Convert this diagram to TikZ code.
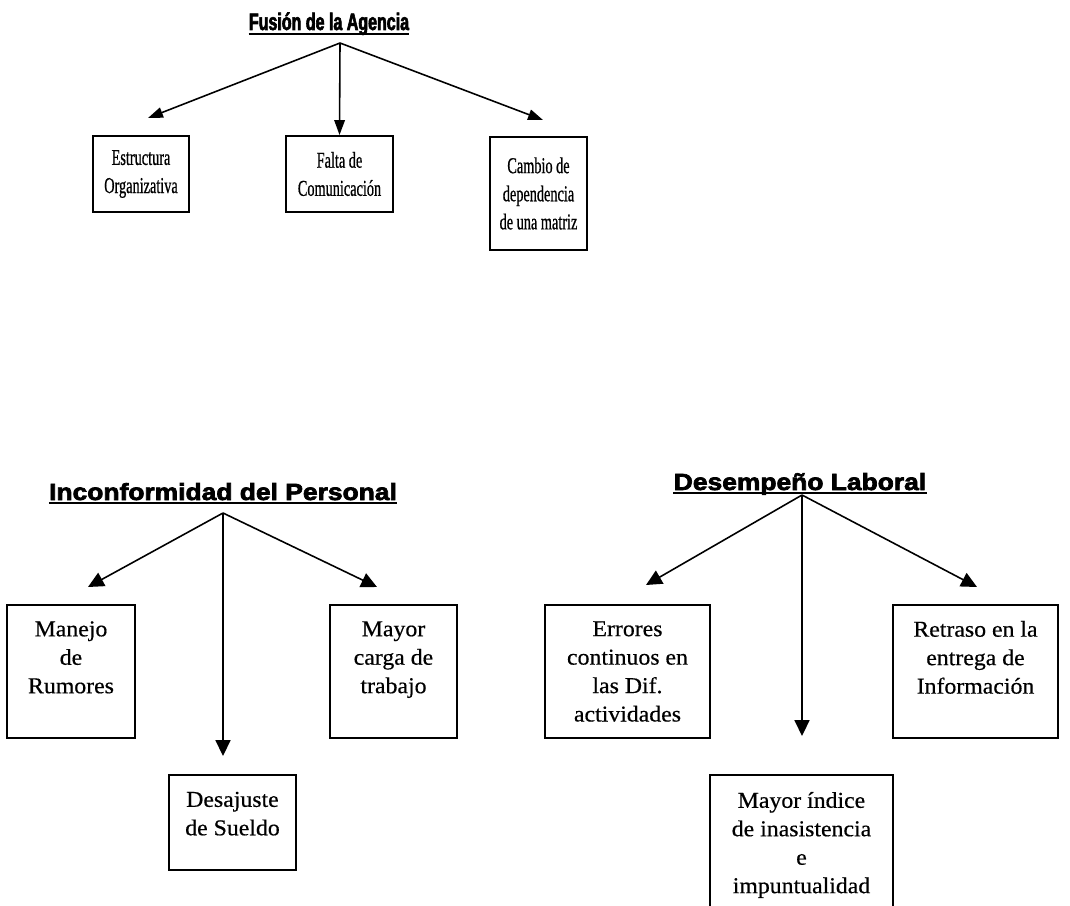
\documentclass[tikz,border=0pt]{standalone}
\usepackage{fontspec}
\setmainfont{Liberation Serif}
\newfontfamily\narrowserif{Liberation Serif}[FakeStretch=0.63,FakeBold=0.6]
\newfontfamily\wideserif{Liberation Serif}[FakeStretch=1.05,FakeBold=0.5]
\newfontfamily\headfont{Liberation Sans}[FakeStretch=1.13,FakeBold=3]
\newfontfamily\narrowhead{Liberation Sans}[FakeStretch=0.67,FakeBold=2.5]
\usetikzlibrary{arrows.meta}
\tikzstyle{box} = [rectangle, draw=black, line width=1.1pt, align=center, inner sep=0pt, font=\fontsize{12.9}{16.2}\wideserif]
\tikzstyle{box1} = [box, font=\fontsize{12.9}{16}\narrowserif]
\tikzstyle{title} = [inner sep=0pt, anchor=base, font=\fontsize{13.3}{16}\headfont\bfseries]
\tikzstyle{title1} = [title, font=\fontsize{13.6}{16}\narrowhead\bfseries]
\tikzstyle{arrow} = [line width=0.9pt, -{Triangle[length=9pt,width=8.5pt]}]
\tikzstyle{arrow1} = [line width=0.9pt, -{Triangle[length=8.5pt,width=6pt]}]
\tikzstyle{uline} = [line width=1.1pt]

\begin{document}
\begin{tikzpicture}[x=0.02cm, y=-0.02cm]
    \useasboundingbox (0,0) rectangle (1070,905);
    \clip (0,0) rectangle (1070,905);

    \node (t1) [title1] at (329,30) {Fusión de la Agencia};
    \node (e1) [box1, minimum width=1.92cm, minimum height=1.52cm] at (141,174) {Estructura\\Organizativa};
    \node (e2) [box1, minimum width=2.14cm, minimum height=1.52cm] at (339.5,174) {Falta de\\Comunicación};
    \node (e3) [box1, minimum width=1.94cm, minimum height=2.26cm] at (538.5,193.5) {Cambio de\\dependencia\\de una matriz};
    \coordinate (f0) at (340,43);
    \coordinate (fl) at (148,118);
    \coordinate (fr) at (543,120);
    \draw [uline] ([yshift=-2.2pt]t1.base west)--([yshift=-2.2pt]t1.base east);
    \draw [arrow1] (f0)--(fl);
    \draw [arrow1] (f0)--(e2.north);
    \draw [arrow1] (f0)--(fr);

    \node (t2) [title] at (223,500) {Inconformidad del Personal};
    \node (m1) [box, minimum width=2.56cm, minimum height=2.66cm] at (71,671.5) {Manejo\\de\\Rumores\\};
    \node (m2) [box, minimum width=2.54cm, minimum height=1.9cm] at (232.5,822.5) {Desajuste\\de Sueldo\\[-6pt]};
    \node (m3) [box, minimum width=2.54cm, minimum height=2.66cm] at (393.5,671.5) {Mayor\\carga de\\trabajo\\};
    \coordinate (p0) at (223,513);
    \coordinate (pl) at (88,587);
    \coordinate (pm) at (223,756);
    \coordinate (pr) at (377,587);
    \draw [uline] ([yshift=-1.8pt]t2.base west)--([yshift=-1.8pt]t2.base east);
    \draw [arrow] (p0)--(pl);
    \draw [arrow] (p0)--(pm);
    \draw [arrow] (p0)--(pr);

    \node (t3) [title] at (800,490) {Desempeño Laboral};
    \node (r1) [box, minimum width=3.3cm, minimum height=2.66cm] at (627.5,671.5) {Errores\\continuos en\\las Dif.\\actividades};
    \node (r2) [box, minimum width=3.66cm, minimum height=2.8cm] at (801.5,845) {Mayor índice\\de inasistencia\\e\\impuntualidad};
    \node (r3) [box, minimum width=3.3cm, minimum height=2.66cm] at (975.5,671.5) {Retraso en la\\entrega de\\Información\\};
    \coordinate (d0) at (802,495);
    \coordinate (dl) at (646,585);
    \coordinate (dm) at (802,736);
    \coordinate (dr) at (977,587);
    \draw [uline] ([yshift=-1.8pt]t3.base west)--([yshift=-1.8pt]t3.base east);
    \draw [arrow] (d0)--(dl);
    \draw [arrow] (d0)--(dm);
    \draw [arrow] (d0)--(dr);
\end{tikzpicture}
\end{document}
